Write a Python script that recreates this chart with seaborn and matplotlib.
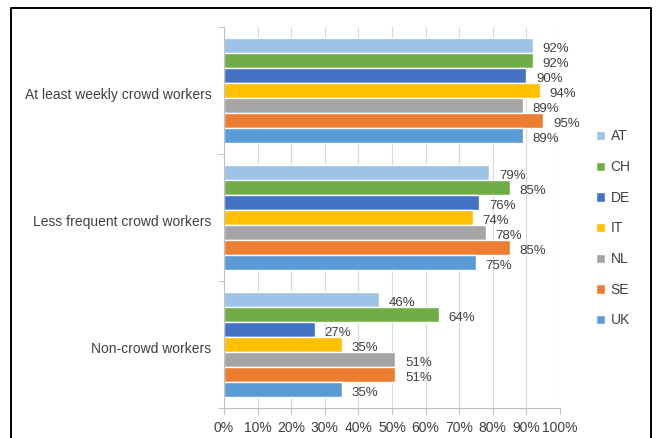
import matplotlib
matplotlib.use("Agg")
import matplotlib.pyplot as plt
from matplotlib.lines import Line2D
from matplotlib.ticker import FixedLocator, PercentFormatter
from matplotlib.transforms import ScaledTranslation
import pandas as pd
import seaborn as sns

groups = ["At least weekly crowd workers", "Less frequent crowd workers", "Non-crowd workers"]
countries = ["AT", "CH", "DE", "IT", "NL", "SE", "UK"]
weekly = [92, 92, 90, 94, 89, 95, 89]
less_frequent = [79, 85, 76, 74, 78, 85, 75]
non_crowd = [46, 64, 27, 35, 51, 51, 35]
colors = ["#9dc3e6", "#70ad47", "#4472c4", "#ffc000", "#a5a5a5", "#ed7d31", "#5b9bd5"]

rows = []
for g, vals in zip(groups, [weekly, less_frequent, non_crowd]):
    for c, v in zip(countries, vals):
        rows.append({"group": g, "country": c, "share": v})
df = pd.DataFrame(rows)

sns.set_style("white")
plt.rcParams["font.family"] = ["Liberation Sans", "DejaVu Sans"]
text_col = "#404040"

fig = plt.figure(figsize=(6.57, 4.38), dpi=100)
ax = fig.add_axes([224 / 657, 1 - 408 / 438, 336 / 657, 381 / 438])

sns.barplot(data=df, y="group", x="share", hue="country", order=groups,
            hue_order=countries, palette=colors, orient="h", width=0.83,
            saturation=1, ax=ax, legend=True)

for cont in ax.containers:
    anns = ax.bar_label(cont, fmt="%d%%", padding=7, fontsize=9.5, color=text_col)
    for a in anns:
        a.xyann = (7, -2.5)

ax.set_xlim(0, 100)
ax.set_ylim(2.5, -0.5)
ax.set_xticks(range(0, 101, 10))
ax.xaxis.set_major_formatter(PercentFormatter(decimals=0))
ax.yaxis.set_minor_locator(FixedLocator([-0.5, 0.5, 1.5, 2.5]))
ax.tick_params(axis="y", which="major", length=0, labelsize=10, labelcolor=text_col, pad=9)
ax.tick_params(axis="y", which="minor", length=4, color="#bfbfbf", left=True)
ax.tick_params(axis="x", length=4, color="#bfbfbf", bottom=True, labelsize=10,
               labelcolor=text_col, pad=5)
ax.grid(axis="x", color="#d9d9d9", linewidth=0.8)
ax.set_axisbelow(True)
ax.set_xlabel("")
ax.set_ylabel("")
sns.despine(ax=ax, top=True, right=True)
for side in ["left", "bottom"]:
    ax.spines[side].set_color("#bfbfbf")

shift = ScaledTranslation(0, -3 / 100, fig.dpi_scale_trans)
for lbl in ax.get_yticklabels():
    lbl.set_transform(lbl.get_transform() + shift)

handles, labels = ax.get_legend_handles_labels()
ax.legend(handles, labels, loc="center left", bbox_to_anchor=(589 / 657, 1 - 228.5 / 438),
          bbox_transform=fig.transFigure, frameon=False, fontsize=10,
          handlelength=0.65, handleheight=0.65, handletextpad=0.4, labelspacing=1.2,
          borderpad=0, labelcolor=text_col)

# outer frame (open at the bottom, as in the cropped reference)
fx0, fx1, fy1 = 11 / 657, 651 / 657, 1 - 8 / 438
fig.add_artist(Line2D([fx0, fx0, fx1, fx1], [0, fy1, fy1, 0], color="black",
                      linewidth=1.4, transform=fig.transFigure))

fig.savefig("out.png", dpi=100)
